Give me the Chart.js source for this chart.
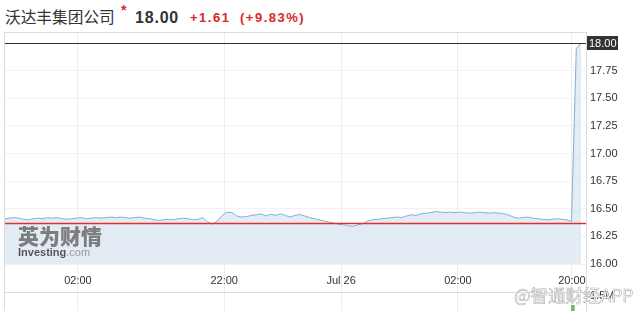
<!DOCTYPE html>
<html>
<head>
<meta charset="utf-8">
<script src="https://cdn.jsdelivr.net/npm/chart.js@4"></script>
<style>
  body { margin: 0; width: 633px; height: 311px; overflow: hidden; background: #fff; position: relative;
         font-family: Arial, "Liberation Sans", sans-serif; }
  .h { position: absolute; white-space: nowrap; line-height: 1; }
  #name { left: 5px; top: 9px; font-family: "Noto Sans CJK SC", sans-serif; font-size: 15.7px; color: #333; }
  #star { left: 121px; top: 3px; color: #e02424; font-size: 14px; font-weight: bold; }
  #price { left: 135px; top: 10px; font-size: 16px; font-weight: bold; color: #333; letter-spacing: 0.8px; }
  .chg { top: 11px; font-size: 13px; font-weight: bold; color: #d9262b; letter-spacing: 1.5px; }
  #chg1 { left: 190px; }
  #chg2 { left: 240px; }
  #volLabel { left: 590px; top: 290px; font-size: 11px; color: #333; }
  canvas { position: absolute; left: 0; }
  #priceChart { top: 0; }
  #volChart { top: 292px; }
  #logo { position: absolute; left: 18px; top: 225px; line-height: 1; }
  #logo .cn { font-family: "Noto Sans CJK SC", sans-serif; font-weight: 900; font-size: 21px; color: #7d7d7d; }
  #logo .en { font-size: 11px; font-weight: bold; color: #555; margin-top: 1px; }
  #logo .en span { font-weight: normal; color: #999; }
  #mark { position: absolute; left: 514px; top: 282px; font-family: "Noto Sans CJK SC", sans-serif; font-size: 17.5px;
          color: rgba(255,255,255,0.92); -webkit-text-stroke: 0.6px #b0b0b0; white-space: nowrap; }
</style>
</head>
<body>
<span class="h" id="name">沃达丰集团公司</span>
<span class="h" id="star">*</span>
<span class="h" id="price">18.00</span>
<span class="h chg" id="chg1">+1.61</span>
<span class="h chg" id="chg2">(+9.83%)</span>
<canvas id="priceChart" width="633" height="292"></canvas>
<canvas id="volChart" width="633" height="19"></canvas>
<span class="h" id="volLabel">1.5M</span>
<div id="logo"><div class="cn">英为财情</div><div class="en">Investing<span>.com</span></div></div>
<div id="mark">@智通财经APP</div>
<script>
// price per bar index (0..119)
const prices = [
  16.405, 16.415, 16.42, 16.415, 16.405, 16.40, 16.41, 16.415, 16.41, 16.42,
  16.415, 16.42, 16.41, 16.405, 16.41, 16.415, 16.42, 16.41, 16.415, 16.42,
  16.415, 16.42, 16.425, 16.42, 16.425, 16.42, 16.415, 16.42, 16.425, 16.415,
  16.41, 16.40, 16.395, 16.40, 16.405, 16.40, 16.41, 16.415, 16.41, 16.40,
  16.405, 16.42, 16.38, 16.36, 16.39, 16.44, 16.47, 16.465, 16.435, 16.425,
  16.43, 16.44, 16.445, 16.455, 16.435, 16.45, 16.44, 16.455, 16.44, 16.425,
  16.44, 16.448, 16.435, 16.42, 16.41, 16.40, 16.39, 16.38, 16.37, 16.36,
  16.355, 16.345, 16.342, 16.355, 16.365, 16.39, 16.40, 16.405, 16.41, 16.415,
  16.42, 16.425, 16.42, 16.435, 16.445, 16.44, 16.455, 16.46, 16.465, 16.475,
  16.47, 16.465, 16.47, 16.465, 16.47, 16.465, 16.46, 16.465, 16.47, 16.465,
  16.46, 16.465, 16.46, 16.455, 16.445, 16.425, 16.415, 16.42, 16.425, 16.415,
  16.41, 16.405, 16.40, 16.405, 16.41, 16.405, 16.40, 16.385, 17.95, 18.00
];
const tickPos = [15.25, 45.4, 69.5, 93.6, 117.1];
const tickLabels = ['02:00', '22:00', 'Jul 26', '02:00', '20:00'];
const lastPrice = 18.00;
const prevClose = 16.375;
const volIdx = [117.3];
const volValues = [0.6]; // millions

const xMax = 120;
const font = { family: 'Arial, "Liberation Sans", sans-serif', size: 11 };
const refLines = [
  { value: prevClose, color: '#e0302a', width: 1.3 },
  { value: lastPrice, color: '#333333', width: 1 }
];

// frame lines, reference lines and last-price box
function makeFrame(withRefs) {
  return {
    id: 'frame',
    afterDatasetsDraw(chart) {
      const ctx = chart.ctx, a = chart.chartArea;
      ctx.save();
      if (withRefs) {
        refLines.forEach(l => {
          const y = Math.round(chart.scales.y.getPixelForValue(l.value)) + 0.5;
          ctx.strokeStyle = l.color;
          ctx.lineWidth = l.width;
          ctx.beginPath(); ctx.moveTo(a.left, y); ctx.lineTo(a.right, y); ctx.stroke();
        });
      }
      ctx.lineWidth = 1;
      ctx.strokeStyle = '#dcdcdc';
      ctx.beginPath();
      ctx.moveTo(a.left + 0.5, a.top); ctx.lineTo(a.left + 0.5, chart.height);
      ctx.moveTo(a.right + 0.5, a.top); ctx.lineTo(a.right + 0.5, chart.height);
      ctx.moveTo(a.left, a.top + 0.5); ctx.lineTo(a.right, a.top + 0.5);
      ctx.stroke();
      if (withRefs) {
        const y = Math.round(chart.scales.y.getPixelForValue(lastPrice));
        ctx.fillStyle = '#333';
        ctx.fillRect(a.right + 1, y - 7, 31, 14);
        ctx.fillStyle = '#fff';
        ctx.font = '11px Arial, "Liberation Sans", sans-serif';
        ctx.textBaseline = 'middle';
        ctx.fillText(lastPrice.toFixed(2), a.right + 3, y + 0.5);
      }
      ctx.restore();
    }
  };
}

new Chart(document.getElementById('priceChart'), {
  type: 'line',
  data: {
    datasets: [{
      data: prices.map((p, i) => ({ x: i, y: p })),
      borderColor: '#8aadd0',
      borderWidth: 1,
      backgroundColor: '#e3ecf5',
      fill: 'start',
      pointRadius: 0,
      tension: 0
    }]
  },
  options: {
    responsive: false,
    animation: false,
    layout: { padding: { left: 4, top: 32, right: 0, bottom: 0 } },
    plugins: { legend: { display: false }, tooltip: { enabled: false } },
    scales: {
      x: {
        type: 'linear', min: 0, max: xMax,
        afterBuildTicks: s => { s.ticks = tickPos.map(v => ({ value: v })); },
        afterFit: s => { s.height = 28; },
        ticks: { callback: (v, i) => tickLabels[i], color: '#333', font, padding: -18, maxRotation: 0, autoSkip: false },
        grid: { color: '#ececec', tickLength: 28, drawTicks: true, tickColor: '#ececec' },
        border: { display: false }
      },
      y: {
        position: 'right', min: 16, max: 18.1,
        afterFit: s => { s.width = 47; },
        ticks: { stepSize: 0.25, includeBounds: false, callback: v => v.toFixed(2), color: '#333', font, padding: 4 },
        grid: { color: '#f2f2f2', drawTicks: false },
        border: { display: false }
      }
    }
  },
  plugins: [makeFrame(true)]
});

new Chart(document.getElementById('volChart'), {
  type: 'bar',
  data: {
    datasets: [{
      data: volIdx.map((x, i) => ({ x: x, y: volValues[i] })),
      backgroundColor: '#6dbb6d',
      barThickness: 3
    }]
  },
  options: {
    responsive: false,
    animation: false,
    layout: { padding: { left: 4, top: 0, right: 47, bottom: 0 } },
    plugins: { legend: { display: false }, tooltip: { enabled: false } },
    scales: {
      x: {
        type: 'linear', min: 0, max: xMax, offset: false,
        afterBuildTicks: s => { s.ticks = tickPos.map(v => ({ value: v })); },
        afterFit: s => { s.height = 0; },
        ticks: { display: false },
        grid: { color: '#ececec', drawTicks: false, offset: false },
        border: { display: false }
      },
      y: { display: false, min: 0, max: 2 }
    }
  },
  plugins: [makeFrame(false)]
});
</script>
</body>
</html>
